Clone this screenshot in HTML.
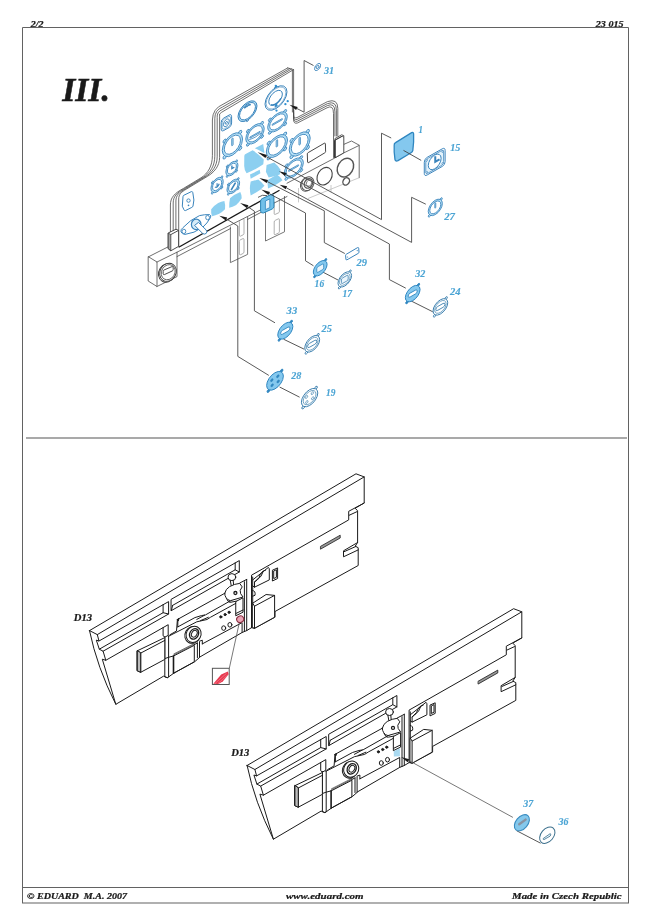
<!DOCTYPE html>
<html><head><meta charset="utf-8"><title>23 015</title>
<style>
html,body{margin:0;padding:0;background:#fff;}
body{width:650px;height:921px;overflow:hidden;font-family:"Liberation Serif",serif;}
svg{position:absolute;left:0;top:0;display:block;will-change:transform}
text{font-family:"Liberation Serif",serif;font-style:italic;font-weight:bold}
.k{fill:none;stroke:#1a1a1a;stroke-width:1;stroke-linejoin:round;stroke-linecap:round}
.kw{fill:#fff;stroke:#1a1a1a;stroke-width:1;stroke-linejoin:round;stroke-linecap:round}
.g{fill:none;stroke:#4a4a4a;stroke-width:.8;stroke-linejoin:round;stroke-linecap:round}
.gw{fill:#fff;stroke:#4a4a4a;stroke-width:.8;stroke-linejoin:round;stroke-linecap:round}
.b{fill:none;stroke:#2f8fc6;stroke-width:.9;stroke-linejoin:round;stroke-linecap:round}
.bf{fill:#7cc4ec;stroke:#2f8fc6;stroke-width:.9;stroke-linejoin:round}
.lf{fill:#8fd0f2;stroke:none}
.bt{fill:#4ba4d4;stroke:#4ba4d4;stroke-width:.12;font-size:9.5px}
.fr{fill:none;stroke:#626262;stroke-width:1}
</style></head><body>
<svg width="650" height="921" viewBox="0 0 650 921">
<g class="fr">
<path d="M22.5,903V27.5H628.5V903"/>
<path d="M22.5,887.5H628.5"/>
<path d="M22,903H629" stroke-width="1.2"/>
<path d="M26,438H627" stroke="#8c8c8c" stroke-width="1.4"/>
</g>
<g fill="#1a1a1a" stroke="#1a1a1a" stroke-width=".22">
<text x="30.8" y="26.7" font-size="8.5" textLength="12.7" lengthAdjust="spacingAndGlyphs">2/2</text>
<text x="595.8" y="26.6" font-size="8.5" textLength="27.7" lengthAdjust="spacingAndGlyphs">23 015</text>
<text x="62.3" y="101.3" font-size="33.5" textLength="47.5" lengthAdjust="spacingAndGlyphs" stroke="#1a1a1a" stroke-width=".5">III.</text>
<text x="27" y="898.5" font-size="8.6" textLength="100" lengthAdjust="spacingAndGlyphs" xml:space="preserve">© EDUARD  M.A. 2007</text>
<text x="286" y="898.5" font-size="8.6" textLength="77.5" lengthAdjust="spacingAndGlyphs">www.eduard.com</text>
<text x="512" y="898.5" font-size="8.6" textLength="109.5" lengthAdjust="spacingAndGlyphs">Made in Czech Republic</text>
<text x="73.8" y="621" font-size="9.5" textLength="18.2" lengthAdjust="spacingAndGlyphs">D13</text>
<text x="231.2" y="755.7" font-size="9.5" textLength="18.2" lengthAdjust="spacingAndGlyphs">D13</text>
</g>
<defs><g id="pn"><g class="k">
<!-- outer silhouette filled white -->
<path class="kw" d="M89.5,630.6L356,473.8L364.2,476.9V503L355.2,508.2L357.6,510.8V542.5L355.2,546.2L358.2,547.7V565.5L275,611.5V617.2L254.5,628.3L251.5,627.7L246.7,630.6L242.1,632.5L199.5,657.2V657.5L194.6,661.8L173.9,673.1L168.5,677L167.3,677.7L163.5,676.2L115.8,704.3Q97.1,667.4 89.5,630.6Z"/>
<!-- top rail -->
<path d="M89.5,630.6L97.3,634.6L364.2,476.9"/>
<!-- left end profile -->
<path d="M97.3,634.6L99,641L96.3,640.1L99.3,649.2L103.1,651.2L105.8,660.3L102.3,659.2L115.8,704.3"/>
<!-- long stringer lines left -->
<path d="M99,641L168.6,601.6V614L103.1,651.2"/>
<path d="M99.3,649.2L163.1,612.7L168.6,614M163.1,612.7V604.7"/>
<path d="M105.8,660.3L168.2,624.7V635.3L164.9,637.2L163.1,635.8V627.6"/>
<!-- right channel -->
<path d="M171.4,599.2L239.3,560.6V572L171.4,610.6Z"/>
<path d="M172.6,605.4L235.2,569.8V562.9M235.2,569.8L239.3,572M171.4,610.6L172.6,605.4"/>
<!-- right end notches -->
<path d="M364.2,503L348.7,511.3V519.9L251.5,575.2V627.7"/>
<path d="M349.3,515.2L356.9,511.7"/>
<path d="M357.6,542.5L343.5,550.8V556.8L358.2,549.9M344.3,551.6L356,546.4"/>
<path d="M320.8,546.2L340.2,535.2V538L320.8,549Z" fill="#999" stroke-width=".8"/>
<!-- sub-panel thickness line, bracket, slot -->
<path d="M252.7,577V603"/>
<path d="M252.7,579.9L268.4,567.4L269.3,568.8V579.9L254.5,587.2L252.7,585.9"/>
<path d="M254.5,587.2V582L259,577.5Q261,571 265.5,570.2M254.5,582L257,580.2Q262,576.5 263.3,571.3"/>
<path d="M272.4,570.6V581L277.6,578.5V568.3ZM273.7,571.4V578.6L276.4,577.3V570.1Z"/>
<path d="M252.7,590.5Q255.8,590.8 255,595.3L252.7,596.2"/>
<!-- box on sub-panel -->
<path class="kw" d="M252.7,603.2L266.1,594.5L274.6,595.4V617.2L254.5,628.3L252.7,627.5Z"/>
<path d="M252.7,603.2L254.5,606.2L274.6,595.4M254.5,606.2V628.3"/>
<!-- strip -->
<path d="M244.4,581.7V631.6M246.7,579.4V630.6M239.8,583L246.7,579.4"/>
<!-- lower band line and left wall of box recess -->
<path d="M177.4,619.5L226,592.6M177.4,619.5L176.5,631L170,634.7M177.8,626.9V620.5"/>
<path d="M177.4,619.5l1.6,-1 l-0.6,2.2z" fill="#1c1c1c"/>
<!-- box top face -->
<path d="M177.8,626.9L194.9,617.6L201.4,615.6L205.5,614.9L236.1,597.6"/>
<path d="M168.3,636.4L196.8,621.8L207,619.5L210.6,617.2L236.1,603.2"/>
<path d="M196.8,619.4L204.6,615.2M200.5,620.6L208.3,617.3"/>
<!-- box bottom -->
<path d="M202.3,643.9L242.1,622.6V632.5"/>
<path d="M199.5,641.2L202.3,640.2V643.9"/>
<!-- boss -->
<ellipse cx="192.6" cy="634.9" rx="7.6" ry="8.6" transform="rotate(28 192.6 634.9)"/>
<ellipse cx="193.6" cy="634.3" rx="7.3" ry="8.3" transform="rotate(28 193.6 634.3)" fill="#fff"/>
<ellipse cx="194.1" cy="633.9" rx="4.3" ry="5.5" transform="rotate(30 194.1 633.9)" stroke-width="1.3"/>
<ellipse cx="194.3" cy="633.8" rx="2.6" ry="3.6" transform="rotate(30 194.3 633.8)"/>
<!-- dots -->
<circle cx="220.8" cy="616.9" r="1.1" fill="#1c1c1c"/><circle cx="225.1" cy="614.6" r="1.1" fill="#1c1c1c"/><circle cx="229.1" cy="612.3" r="1.1" fill="#1c1c1c"/>
<ellipse cx="223.7" cy="628.1" rx="2" ry="2.3"/><ellipse cx="229.9" cy="624.8" rx="2" ry="2.3"/>
<!-- rib and blocks -->
<path d="M164.8,636.5V676.8L167.3,677.7L168.6,677V636"/>
<path d="M164.8,658.6L168.5,657.3L173.4,656"/>
<path d="M173.5,656V673.2" stroke-width="1.6"/>
<path d="M173.9,655.8L194.3,645.3V661.8L173.9,673.1"/>
<path d="M173.9,654.8L194.3,644.4M173.9,653.9L194.3,643.5" stroke-width=".6"/>
<path d="M197.4,643V657.6M199.5,642V657.2M194.3,644.6L197.4,643"/>
<!-- left block -->
<path class="kw" d="M137.3,650.8L164.8,637.6V659.4L140.7,672.3L137.3,670.8Z"/>
<path d="M137.3,650.8L140.7,653.1V672.3M140.7,653.1L164.8,640.4"/>
<path d="M137.3,650.8V670.8L140.7,672.3V653.1Z" fill="#bbb"/>
<!-- bracket above circle -->
<path class="kw" d="M236.1,601.4L243,597.8V612.2L236.1,615.6Z"/>
<path d="M236.1,613.4L243,610"/>
<!-- wheel -->
<ellipse cx="231.9" cy="577.1" rx="3.9" ry="3.5" fill="#fff"/>
<path d="M230.3,580.5L231.2,585.5M233.2,580.4L233.6,584.6"/>
<path d="M226.4,598.4L228.2,601.4Q229.2,602.6 231,602.2L236.1,601.2"/>
<path class="kw" d="M224.7,593.3Q225.6,589 229.6,586.6Q234.6,583.8 239.7,583.4L242.2,586.9Q239,590.4 240.6,593.6L243,597L230.4,600.7Q227.6,600.2 226.2,597.9Q224.6,595.6 224.7,593.3Z"/>
<circle cx="235.4" cy="593" r="1.5" stroke-width="1.3"/>
</g>
</g></defs>
<use href="#pn"/>
<use href="#pn" transform="translate(157.6,134.9)"/>
<!-- lower extras: red marker panel 1 -->
<g>
<path d="M239.3,622.8L229.3,668.3" fill="none" stroke="#555" stroke-width=".8"/>
<ellipse cx="240.2" cy="619.2" rx="3.6" ry="3.2" transform="rotate(-30 240.2 619.2)" fill="#eba6b6" stroke="#8a2f42" stroke-width="1.1"/>
<rect x="212.4" y="668.3" width="16.8" height="16.2" fill="#fff" stroke="#555" stroke-width="1"/>
<path d="M213.3,683.8L221.2,674.6L227.8,671.4L228.7,674.2L222.8,681.4L218.3,684Z" fill="#e8384f"/>
<path d="M215,683.5L226.5,673.3M218,683.5L228.3,674.5" stroke="#f7a0aa" stroke-width=".5" fill="none"/>
</g>
<!-- panel 2 blue patch + arrow + parts 36/37 -->
<g>
<path d="M393.8,751.2L399.9,748.3V756.3L393.8,756.5Z" fill="#a9d9f0"/>
<path d="M401.1,756.9L409.3,759.2L407.7,762.2Z" fill="#1c1c1c"/>
<path d="M409,760.6L512.9,817.4" fill="none" stroke="#555" stroke-width=".8"/>
<path d="M516.6,830.7L540.6,843.2" fill="none" stroke="#444" stroke-width=".9"/>
<ellipse cx="521.9" cy="822.7" rx="9.3" ry="6" transform="rotate(-50 521.9 822.7)" fill="#84c8ec" stroke="#3a8cc0" stroke-width="1.1"/>
<path d="M519.2,824.3L525.6,819.6" stroke="#8793a3" stroke-width="2.4" stroke-linecap="round" fill="none"/>
<ellipse cx="547.3" cy="835.2" rx="9.3" ry="6.3" transform="rotate(-50 547.3 835.2)" fill="#fff" stroke="#3b6f8c" stroke-width="1"/>
<path d="M543.3,838.4L550.3,833.6Q551.6,835 550,836.2L544,839.6Q542.6,839.4 543.3,838.4Z" fill="#e4f3fb" stroke="#3b6f8c" stroke-width=".8"/>
<text class="bt" x="523.3" y="807.2" textLength="10" lengthAdjust="spacingAndGlyphs">37</text>
<text class="bt" x="558.6" y="824.9" textLength="10" lengthAdjust="spacingAndGlyphs">36</text>
</g>
<g id="upper">
<path d="M170.4,250V205.0C170.4,197.5 174.5,193.2 183.5,188.4L201.0,177.8C208.0,173.5 212.4,166.0 212.4,155.5V120.0Q212.6,108.6 223.0,104.3L287.7,67.9L293.6,69.6V114.5Q293.6,118.6 297.0,117.6L327.5,101.6Q337.8,97.6 337.8,108.5V160L178,250Z" fill="#fff" stroke="none"/>
<path class="g" d="M170.4,250V205.0C170.4,197.5 174.5,193.2 183.5,188.4L201.0,177.8C208.0,173.5 212.4,166.0 212.4,155.5V120.0Q212.6,108.6 223.0,104.3L287.7,67.9"/>
<path class="g" d="M293.6,108.5V114.5Q293.6,118.8 297.0,117.6L327.5,101.6Q337.8,98.1 337.8,108.5V136"/>
<path class="g" d="M173.2,250V203.0C173.2,196.5 176.7,192.8 184.5,188.6L203.1,177.4C210.1,173.1 214.8,166.0 214.8,156.2V118.7Q214.6,110.3 222.5,107.0L289.7,68.5"/>
<path class="g" d="M293.6,110.2V116.2Q293.6,120.6 297.1,119.4L327.3,103.7Q336.4,100.2 336.4,110.2V136"/>
<path class="g" d="M175.9,250V201.0C175.9,195.5 179.0,192.4 185.4,188.9L205.1,176.9C212.1,172.8 217.2,166.0 217.2,156.8V117.5Q216.6,112.1 222.1,109.6L291.6,69.0"/>
<path class="g" d="M293.6,111.8V117.8Q293.6,122.4 297.3,121.2L327.2,105.7Q334.9,102.2 334.9,111.8V136"/>
<path class="g" d="M178.7,250V199.0C178.7,194.5 181.2,192.0 186.4,189.1L207.2,176.5C214.2,172.4 219.6,166.0 219.6,157.5V116.2Q218.6,113.8 221.6,112.3L293.6,69.6"/>
<path class="g" d="M293.6,113.5V119.5Q293.6,124.2 297.4,123.0L327.0,107.8Q333.5,104.3 333.5,113.5V157.5"/>
<path class="g" d="M287.7,67.9L293.6,69.6V114"/>
<path class="g" d="M292.4,70.5V112" stroke-width=".5"/>
<path d="M244.3,156.2Q244.3,154.6 245.6,154L252.6,150.3Q258.5,153.8 263.8,159.6L263.3,164.3Q255,170 246.6,173.3Q244.4,171 244.2,166Z" fill="#8ccff0"/>
<path d="M254.8,148.3L263.2,144.1L264.5,153.3Q259.6,150.2 254.8,148.3Z" fill="#8ccff0"/>
<path d="M266.6,165L274.2,162.6Q278,165.6 280.5,169.8L279.8,174.6Q274,176.6 268.7,177.5L265.9,171.8Z" fill="#8ccff0"/>
<path d="M250,174.6L259.7,169.8L260.4,173.2L250.7,178.8Z" fill="#8ccff0"/>
<path d="M267.3,180.2L277,174.6Q280.5,177 282.5,180.2Q278,183.6 274.2,185.7L268,188.5Z" fill="#8ccff0"/>
<path d="M250.7,181.5L258.3,179.5Q262,182.3 264.5,185.7L260.4,189.8Q255.5,193 250.7,195.4Q249.6,191 250,186Z" fill="#8ccff0"/>
<path d="M230,198.2Q234.5,194.2 240.3,192Q241.8,195 241.7,198.2Q239.4,202 236.2,205Q232.6,207 229.2,207.8Q229,203 230,198.2Z" fill="#8ccff0"/>
<path d="M211.2,209.2Q214.2,205.4 218.2,203Q221.2,201.6 224.4,201Q225.6,205 225,209.2Q222.4,212 218.8,214Q215.4,215.6 212,216.2Q210.8,212.6 211.2,209.2Z" fill="#8ccff0"/>
<g transform="matrix(5.208,-2.940,0,6.200,226.4,122.8)" fill="#fff" stroke="#3a84bc" stroke-width="1">
<rect x="-1" y="-1" width="2" height="2" rx=".5" vector-effect="non-scaling-stroke"/><rect x="-.8" y="-.8" width="1.6" height="1.6" rx=".4" vector-effect="non-scaling-stroke" stroke-width=".6"/><circle r=".55" vector-effect="non-scaling-stroke"/><circle r=".2" vector-effect="non-scaling-stroke"/></g>
<g transform="matrix(9.486,-5.355,0,8.900,247.5,111.2)" fill="#fff" stroke="#3a84bc" stroke-width="1">
<circle cx="0" cy="1.02" r=".12" vector-effect="non-scaling-stroke"/><circle r="1" vector-effect="non-scaling-stroke" fill="#b6dff5"/><circle r=".84" vector-effect="non-scaling-stroke"/><path d="M-.35,-.55Q0,-.75 .35,-.55" fill="none" vector-effect="non-scaling-stroke" stroke-width="1.4"/><circle cx="0" cy="-.6" r=".08" vector-effect="non-scaling-stroke"/></g>
<g transform="matrix(10.974,-6.195,0,10.600,276.0,98.0)" fill="#fff" stroke="#3a84bc" stroke-width="1">
<circle cx="0" cy="-1.0" r=".12" vector-effect="non-scaling-stroke" fill="#3a84bc"/><circle r="1" vector-effect="non-scaling-stroke"/><circle r=".9" vector-effect="non-scaling-stroke" stroke-width=".6" fill="none"/><circle cx="-.04" cy="-.03" r=".62" vector-effect="non-scaling-stroke"/><path d="M-.45,.35Q0,.75 .45,.3" fill="none" vector-effect="non-scaling-stroke" stroke-width="1.2"/><circle cx="0" cy=".72" r=".09" vector-effect="non-scaling-stroke" fill="#3a84bc"/></g>
<circle cx="285.4" cy="104.2" r="1.15" fill="#2f8fd0"/>
<circle cx="287.7" cy="101.2" r="1.15" fill="#2f8fd0"/>
<circle cx="276.3" cy="105.4" r="1.15" fill="#2f8fd0"/>
<circle cx="276.5" cy="110.6" r="1.15" fill="#2f8fd0"/>
<circle cx="275.8" cy="85.9" r="1.15" fill="#2f8fd0"/>
<g transform="matrix(9.207,-5.198,0,8.800,255.0,133.8)" fill="#b6dff5" stroke="#3a84bc" stroke-width="0.9">
<circle cx="0.757" cy="-0.757" r=".17" vector-effect="non-scaling-stroke"/>
<circle cx="-0.757" cy="-0.757" r=".17" vector-effect="non-scaling-stroke"/>
<circle cx="-0.757" cy="0.757" r=".17" vector-effect="non-scaling-stroke"/>
<circle cx="0.757" cy="0.757" r=".17" vector-effect="non-scaling-stroke"/>
<circle r="1" vector-effect="non-scaling-stroke"/>
<circle r="0.8" vector-effect="non-scaling-stroke" fill="#fff"/>
<rect x="-.55" y=".04" width="1.1" height=".14" vector-effect="non-scaling-stroke" stroke-width=".8"/>
<path d="M-0.7,0.3Q0,0.5 0.7,0.3" vector-effect="non-scaling-stroke" stroke-width=".8" fill="none"/>
</g>
<g transform="matrix(9.858,-5.565,0,8.400,277.5,121.9)" fill="#b6dff5" stroke="#3a84bc" stroke-width="0.9">
<circle cx="0.757" cy="-0.757" r=".17" vector-effect="non-scaling-stroke"/>
<circle cx="-0.757" cy="-0.757" r=".17" vector-effect="non-scaling-stroke"/>
<circle cx="-0.757" cy="0.757" r=".17" vector-effect="non-scaling-stroke"/>
<circle cx="0.757" cy="0.757" r=".17" vector-effect="non-scaling-stroke"/>
<circle r="1" vector-effect="non-scaling-stroke"/>
<circle r="0.8" vector-effect="non-scaling-stroke" fill="#fff"/>
<rect x="-.55" y="-.08" width="1.05" height=".15" rx=".05" vector-effect="non-scaling-stroke" stroke-width=".8"/>
</g>
<g transform="matrix(10.137,-5.723,0,10.500,232.4,144.7)" fill="#b6dff5" stroke="#3a84bc" stroke-width="0.9">
<circle cx="0.757" cy="-0.757" r=".17" vector-effect="non-scaling-stroke"/>
<circle cx="-0.757" cy="-0.757" r=".17" vector-effect="non-scaling-stroke"/>
<circle cx="-0.757" cy="0.757" r=".17" vector-effect="non-scaling-stroke"/>
<circle cx="0.757" cy="0.757" r=".17" vector-effect="non-scaling-stroke"/>
<circle r="1" vector-effect="non-scaling-stroke"/>
<circle r="0.8" vector-effect="non-scaling-stroke" fill="#fff"/>
<rect x="-.07" y="-.62" width=".14" height=".7" rx=".05" vector-effect="non-scaling-stroke" stroke-width=".8"/>
</g>
<g transform="matrix(10.602,-5.985,0,9.800,276.9,146.0)" fill="#b6dff5" stroke="#3a84bc" stroke-width="0.9">
<circle cx="0.757" cy="-0.757" r=".17" vector-effect="non-scaling-stroke"/>
<circle cx="-0.757" cy="-0.757" r=".17" vector-effect="non-scaling-stroke"/>
<circle cx="-0.757" cy="0.757" r=".17" vector-effect="non-scaling-stroke"/>
<circle cx="0.757" cy="0.757" r=".17" vector-effect="non-scaling-stroke"/>
<circle r="1" vector-effect="non-scaling-stroke"/>
<circle r="0.8" vector-effect="non-scaling-stroke" fill="#fff"/>
<rect x="-.07" y="-.62" width=".14" height=".7" rx=".05" vector-effect="non-scaling-stroke" stroke-width=".8"/>
</g>
<g transform="matrix(10.509,-5.933,0,10.600,299.7,144.0)" fill="#b6dff5" stroke="#3a84bc" stroke-width="0.9">
<circle cx="0.757" cy="-0.757" r=".17" vector-effect="non-scaling-stroke"/>
<circle cx="-0.757" cy="-0.757" r=".17" vector-effect="non-scaling-stroke"/>
<circle cx="-0.757" cy="0.757" r=".17" vector-effect="non-scaling-stroke"/>
<circle cx="0.757" cy="0.757" r=".17" vector-effect="non-scaling-stroke"/>
<circle r="1" vector-effect="non-scaling-stroke"/>
<circle r="0.8" vector-effect="non-scaling-stroke" fill="#fff"/>
<rect x="-.07" y="-.62" width=".14" height=".7" rx=".05" vector-effect="non-scaling-stroke" stroke-width=".8"/>
</g>
<g transform="matrix(9.579,-5.408,0,8.500,293.8,168.0)" fill="#b6dff5" stroke="#3a84bc" stroke-width="0.9">
<circle cx="0.757" cy="-0.757" r=".17" vector-effect="non-scaling-stroke"/>
<circle cx="-0.757" cy="-0.757" r=".17" vector-effect="non-scaling-stroke"/>
<circle cx="-0.757" cy="0.757" r=".17" vector-effect="non-scaling-stroke"/>
<circle cx="0.757" cy="0.757" r=".17" vector-effect="non-scaling-stroke"/>
<circle r="1" vector-effect="non-scaling-stroke"/>
<circle r="0.8" vector-effect="non-scaling-stroke" fill="#fff"/>
<rect x="-.55" y="-.08" width="1.05" height=".15" rx=".05" vector-effect="non-scaling-stroke" stroke-width=".8"/>
</g>
<g transform="matrix(6.045,-3.413,0,6.400,231.9,168.6)" fill="#b6dff5" stroke="#3a84bc" stroke-width="0.9">
<circle cx="0.757" cy="-0.757" r=".17" vector-effect="non-scaling-stroke"/>
<circle cx="-0.757" cy="-0.757" r=".17" vector-effect="non-scaling-stroke"/>
<circle cx="-0.757" cy="0.757" r=".17" vector-effect="non-scaling-stroke"/>
<circle cx="0.757" cy="0.757" r=".17" vector-effect="non-scaling-stroke"/>
<circle r="1" vector-effect="non-scaling-stroke"/>
<circle r="0.74" vector-effect="non-scaling-stroke" fill="#fff"/>
<path d="M0,-0.5V0H0.4" vector-effect="non-scaling-stroke" stroke-width="1.4" fill="none"/>
</g>
<g transform="matrix(6.324,-3.570,0,6.300,233.3,186.4)" fill="#b6dff5" stroke="#3a84bc" stroke-width="0.9">
<circle cx="0.757" cy="-0.757" r=".17" vector-effect="non-scaling-stroke"/>
<circle cx="-0.757" cy="-0.757" r=".17" vector-effect="non-scaling-stroke"/>
<circle cx="-0.757" cy="0.757" r=".17" vector-effect="non-scaling-stroke"/>
<circle cx="0.757" cy="0.757" r=".17" vector-effect="non-scaling-stroke"/>
<circle r="1" vector-effect="non-scaling-stroke"/>
<circle r="0.74" vector-effect="non-scaling-stroke" fill="#fff"/>
<path d="M-0.3,0.35L0.3,-0.35" vector-effect="non-scaling-stroke" stroke-width="1.6" stroke-linecap="round" fill="none"/>
</g>
<g transform="matrix(6.138,-3.465,0,6.800,217.1,185.0)" fill="#b6dff5" stroke="#3a84bc" stroke-width="0.9">
<circle cx="0.757" cy="-0.757" r=".17" vector-effect="non-scaling-stroke"/>
<circle cx="-0.757" cy="-0.757" r=".17" vector-effect="non-scaling-stroke"/>
<circle cx="-0.757" cy="0.757" r=".17" vector-effect="non-scaling-stroke"/>
<circle cx="0.757" cy="0.757" r=".17" vector-effect="non-scaling-stroke"/>
<circle r="1" vector-effect="non-scaling-stroke"/>
<circle r="0.74" vector-effect="non-scaling-stroke" fill="#fff"/>
<path d="M-0.35,0.1Q0,0.55 0.35,0.0M0,0.3V-0.25" vector-effect="non-scaling-stroke" stroke-width="1.2" fill="none"/>
</g>
<path d="M183,196.6Q183,195.6 184,195.2L191.4,191.6Q192.6,191.4 192.8,192.6L193.9,200L193,206Q192.8,207 191.8,207.4L185.4,210.6Q184.4,210.8 184,209.8L182.3,206.2Z" fill="#fff" stroke="#3a84bc" stroke-width="1"/>
<circle cx="188.5" cy="200.6" r="1.7" fill="none" stroke="#3a84bc" stroke-width=".9"/><circle cx="188.5" cy="205.4" r=".8" fill="#3a84bc"/>
<path d="M308.2,152.6L324.4,143.2Q325.3,142.9 325.4,143.8L325.6,151.6Q325.6,152.4 324.8,152.8L308.6,162.6Q307.7,162.9 307.6,162L307.3,153.8Q307.4,153 308.2,152.6Z" fill="#fff" stroke="#333" stroke-width=".9"/>
<path d="M230.4,226.4V262.6L247.6,254.4V215" fill="#fff" stroke="#666" stroke-width=".9"/>
<path d="M239.4,221.6Q239.4,220.4 240.4,220L243,218.8Q244,218.6 244,219.6V233.4Q244,234.4 243,234.9L240.4,236.2Q239.4,236.4 239.4,235.4Z M239.4,241.4Q239.4,240.2 240.4,239.8L243,238.6Q244,238.4 244,239.4V252Q244,253 243,253.5L240.4,254.8Q239.4,255 239.4,254Z" fill="none" stroke="#999" stroke-width=".8"/>
<path d="M265.5,208V241L284.5,231.8V196" fill="#fff" stroke="#666" stroke-width=".9"/>
<path d="M274.2,201Q274.2,199.8 275.2,199.4L278.4,197.8Q279.4,197.6 279.4,198.6V211.4Q279.4,212.4 278.4,212.9L275.2,214.4Q274.2,214.6 274.2,213.6Z M274.2,222Q274.2,220.8 275.2,220.4L278.4,218.8Q279.4,218.6 279.4,219.6V231.6Q279.4,232.6 278.4,233.1L275.2,234.6Q274.2,234.8 274.2,233.8Z" fill="none" stroke="#999" stroke-width=".8"/>
<path d="M148.5,256.8L168.2,247L178.7,247.2L279.5,190.3L334.6,159.5L343.8,153L356.2,143.2L359.2,145.4V177.7L308,198.5L298.5,202.4V188L177,256.5V277L157,286.5L148.5,281.2Z" fill="#fff" stroke="none"/>
<path class="g" stroke="#3a3a3a" d="M148.5,256.8L157,262V286.5L148.5,281.2Z"/>
<path class="g" stroke="#3a3a3a" d="M157,262L177,252.2L287,196.5"/>
<path class="g" stroke="#3a3a3a" d="M148.5,256.8L168.2,246.8"/>
<path class="g" stroke="#3a3a3a" d="M157,286.5L177,276.6V252.2" />
<path class="g" stroke="#3a3a3a" d="M177,256.6L230.4,228.6M247.6,219.4L265.5,210"/>
<path d="M178.7,247.2L279.5,190.3" fill="none" stroke="#161616" stroke-width="1.3"/>
<ellipse cx="167.1" cy="272.9" rx="8.3" ry="9.6" transform="rotate(32 167.1 272.9)" fill="#fff" stroke="#3a3a3a" stroke-width=".9"/>
<ellipse cx="168" cy="272.3" rx="8" ry="9.4" transform="rotate(32 168 272.3)" fill="#fff" stroke="#3a3a3a" stroke-width=".9"/>
<ellipse cx="168.2" cy="272.2" rx="6.6" ry="7.9" transform="rotate(32 168.2 272.2)" fill="none" stroke="#3a3a3a" stroke-width=".7"/>
<path d="M163.2,271.6Q163,270.4 164,270L172,266.6Q173.2,266.4 173.2,267.6V269.6Q173.2,270.6 172.2,271L164.4,274.6Q163.2,274.8 163.2,273.6Z" fill="#fff" stroke="#3a3a3a" stroke-width=".9"/>
<path d="M168.2,233L176,229.2L178.6,230.4V246.4L170.8,250.8L168.2,248.6Z" fill="#fff" stroke="#3a3a3a" stroke-width=".9"/>
<path d="M168.2,233L170.8,234.6V250.8L168.2,248.6Z" fill="#aaa" stroke="#3a3a3a" stroke-width=".8"/>
<path d="M170.8,234.6L178.6,230.4" fill="none" stroke="#3a3a3a" stroke-width=".9"/>
<path d="M181,231.8Q180.4,229.6 183,227.6Q190,219.8 199.5,215.6Q204.6,214.4 209.6,214.6Q211.6,215.4 210.4,217.8Q207,223.6 203,227Q194,233.6 185,234.4Q182,234.2 181,231.8Z" fill="#fff" stroke="#3a84bc" stroke-width="1"/>
<ellipse cx="183.9" cy="231.4" rx="1.9" ry="2.2" fill="#fff" stroke="#3a84bc" stroke-width=".9"/><ellipse cx="207.6" cy="217.6" rx="1.9" ry="2.2" fill="#fff" stroke="#3a84bc" stroke-width=".9"/>
<ellipse cx="196.2" cy="224.4" rx="4.8" ry="5.2" fill="#d5ecf8" stroke="#3a84bc" stroke-width="1.2"/>
<path d="M194.6,225.4L202.8,233.6Q204.8,234.8 206.4,233.2Q207.6,231.4 206,229.8L198.4,222.4Z" fill="#fff" stroke="#3a84bc" stroke-width="1"/>
<path class="g" stroke="#3a3a3a" d="M287,183.2L334.8,158L343.6,153L359.2,145.4V177.7"/>
<path class="g" stroke="#3a3a3a" d="M343.8,144.4L351.5,141L359.2,145.2"/>
<path fill="none" stroke="#bdbdbd" stroke-width=".8" d="M359.2,177.7L308,198.5M298.5,188V202.4M331,185V192.4"/>
<path d="M334.9,140.2L342.2,136.2L343.8,137.2V152.9L334.9,157.8Z" fill="#fff" stroke="#3a3a3a" stroke-width=".9"/>
<path d="M334.9,138.6L341.6,134.8L343.8,135.6V137.2M334.9,138.6V140.2L342.2,136.2" fill="none" stroke="#3a3a3a" stroke-width=".8"/>
<path d="M334.9,140.2V157.8" fill="none" stroke="#222" stroke-width="1.4"/>
<ellipse cx="345.4" cy="167.6" rx="7.6" ry="9.9" transform="rotate(30 345.4 167.6)" fill="#fff" stroke="#555" stroke-width="1.5"/>
<ellipse cx="324.6" cy="176.2" rx="7" ry="9.3" transform="rotate(30 324.6 176.2)" fill="#fff" stroke="#444" stroke-width="1.1"/>
<ellipse cx="346.2" cy="181.4" rx="3.1" ry="3.9" transform="rotate(30 346.2 181.4)" fill="#fff" stroke="#555" stroke-width="1.4"/>
<ellipse cx="306.6" cy="184.4" rx="5.8" ry="7.2" transform="rotate(30 306.6 184.4)" fill="#fff" stroke="#555" stroke-width="1"/>
<ellipse cx="307.8" cy="183.7" rx="5.8" ry="7.2" transform="rotate(30 307.8 183.7)" fill="#fff" stroke="#555" stroke-width="1"/>
<ellipse cx="308.4" cy="183.4" rx="3.9" ry="5" transform="rotate(30 308.4 183.4)" fill="#fff" stroke="#555" stroke-width="1.3"/>
<ellipse cx="309" cy="183.1" rx="2.5" ry="3.4" transform="rotate(30 309 183.1)" fill="#fff" stroke="#666" stroke-width=".8"/>
<path d="M258,197.4L262.4,195.3L267,195.6" fill="none" stroke="#333" stroke-width=".8"/>
<path d="M260.6,201.2Q260.6,199.4 262.2,198.6L271,194.6Q273.8,194.2 273.9,196.6V206.4Q273.8,208.2 272.2,209L263.4,213Q260.8,213.4 260.6,211Z" fill="#72c0e9" stroke="#2a86b8" stroke-width="1"/>
<path d="M265.4,201L269.8,198.9V207.6L265.4,209.7Z" fill="#e6f3fb" stroke="#2f86c0" stroke-width=".8"/>
<path d="M266.2,156.6L381.5,219.6V133.2L391.2,138" fill="none" stroke="#484848" stroke-width=".9" stroke-linejoin="miter"/>
<path d="M285.8,174.6L411.6,242.4V197.3L425.8,204.2" fill="none" stroke="#484848" stroke-width=".9" stroke-linejoin="miter"/>
<path d="M286.4,187.8L389.4,244V279.6L405.8,288.2" fill="none" stroke="#484848" stroke-width=".9" stroke-linejoin="miter"/>
<path d="M267.3,181.6L324.3,210.8V242.6L344.8,253.5" fill="none" stroke="#484848" stroke-width=".9" stroke-linejoin="miter"/>
<path d="M269.2,193.6L305.5,213V260.8L313.5,265.8" fill="none" stroke="#484848" stroke-width=".9" stroke-linejoin="miter"/>
<path d="M247.7,206.7L254.4,211.2V310.8L275,322.8" fill="none" stroke="#484848" stroke-width=".9" stroke-linejoin="miter"/>
<path d="M226.5,219L237.8,226V356.4L268.8,375.4" fill="none" stroke="#484848" stroke-width=".9" stroke-linejoin="miter"/>
<path d="M296.9,108.5L304.1,112.2V60.5L313.5,65.5" fill="none" stroke="#484848" stroke-width=".9" stroke-linejoin="miter"/>
<path d="M257.7,152.3L265.4,158.1L267.0,155.1Z" fill="#1a1a1a"/>
<path d="M279,171.2L285.0,176.1L286.6,173.1Z" fill="#1a1a1a"/>
<path d="M259.3,177.9L266.6,183.1L268.0,180.1Z" fill="#1a1a1a"/>
<path d="M279.6,184.7L285.7,189.3L287.1,186.3Z" fill="#1a1a1a"/>
<path d="M261.2,189.6L268.4,195.1L270.0,192.1Z" fill="#1a1a1a"/>
<path d="M240.1,203.1L247.0,208.2L248.4,205.2Z" fill="#1a1a1a"/>
<path d="M219.3,215.8L225.8,220.6L227.2,217.4Z" fill="#1a1a1a"/>
<path d="M289.5,104.8L296.1,110.0L297.7,107.0Z" fill="#1a1a1a"/>
<g transform="matrix(2.976,-1.680,0,3.000,317.6,67)" fill="#fff" stroke="#3a84bc" stroke-width="1"><circle r="1" vector-effect="non-scaling-stroke"/><circle r=".45" vector-effect="non-scaling-stroke"/></g>
<text class="bt" x="324" y="73.6" textLength="10.2" lengthAdjust="spacingAndGlyphs">31</text>
<path d="M394.2,145.2Q394,143.4 395.6,142.6L411.6,132.6Q413.4,132 413.6,133.8Q414,142 412.8,150.6Q412.4,152 411,152.8L398,160.6Q395.6,161.8 395,159.6Q393.8,152 394.2,145.2Z" fill="#84c8ee" stroke="#2f86c0" stroke-width="1.3"/>
<path d="M403.5,150.4L421.2,160.4" fill="none" stroke="#444" stroke-width=".9"/>
<text class="bt" x="418.6" y="132.8" textLength="4.4" lengthAdjust="spacingAndGlyphs">1</text>
<g transform="matrix(0.930,-0.525,0,1.000,434.7,161.9)" stroke="#3a84bc" stroke-width="1" fill="#fff">
<rect x="-11.2" y="-8.8" width="22.4" height="17.6" rx="3.2" vector-effect="non-scaling-stroke"/><rect x="-9.6" y="-7.4" width="19.2" height="14.8" rx="2.6" vector-effect="non-scaling-stroke" fill="#e3f2fb" stroke-width=".8"/>
<circle cx="-8.6" cy="-6" r=".9" vector-effect="non-scaling-stroke" stroke-width=".7"/>
<circle cx="8.6" cy="-6" r=".9" vector-effect="non-scaling-stroke" stroke-width=".7"/>
<circle cx="8.6" cy="6" r=".9" vector-effect="non-scaling-stroke" stroke-width=".7"/>
<circle cx="-8.6" cy="6" r=".9" vector-effect="non-scaling-stroke" stroke-width=".7"/>
<circle r="6.9" vector-effect="non-scaling-stroke"/><path d="M0.6,-5.4V0.3H5.2" fill="none" stroke-width="2" vector-effect="non-scaling-stroke"/></g>
<text class="bt" x="450.2" y="150.8" textLength="10.2" lengthAdjust="spacingAndGlyphs">15</text>
<g transform="matrix(7.068,-3.990,0,7.200,435.3,207.4)" fill="#b6dff5" stroke="#3a84bc" stroke-width="0.9">
<circle cx="0.820" cy="-0.688" r=".17" vector-effect="non-scaling-stroke"/>
<circle cx="-0.820" cy="0.688" r=".17" vector-effect="non-scaling-stroke"/>
<circle r="1" vector-effect="non-scaling-stroke"/>
<circle r="0.78" vector-effect="non-scaling-stroke" fill="#fff"/>
<rect x="-.07" y="-.62" width=".14" height=".7" rx=".05" vector-effect="non-scaling-stroke" stroke-width=".8"/>
</g>
<text class="bt" x="444.2" y="219.8" textLength="10.8" lengthAdjust="spacingAndGlyphs">27</text>
<path d="M346.4,254.2L357.6,247.6Q358.6,247.3 358.7,248.2L359,252.2Q359,253 358.2,253.4L347,259.8Q346,260.2 345.9,259.2L345.6,255.2Q345.6,254.6 346.4,254.2Z" fill="#fff" stroke="#3a84bc" stroke-width="1"/>
<circle cx="347.6" cy="257" r=".6" fill="#3a84bc"/><circle cx="357.2" cy="250.6" r=".6" fill="#3a84bc"/>
<text class="bt" x="356.5" y="265.8" textLength="10.5" lengthAdjust="spacingAndGlyphs">29</text>
<path d="M320.2,270.7L338,280" fill="none" stroke="#444" stroke-width=".9"/>
<g transform="matrix(6.882,-3.885,0,6.660,320.2,268.2)" fill="#84c8ee" stroke="#2f86c0" stroke-width="1">
<circle cx=".78" cy="-.78" r=".17" vector-effect="non-scaling-stroke" fill="#2f86c0"/><circle cx="-.78" cy=".78" r=".17" vector-effect="non-scaling-stroke" fill="#2f86c0"/>
<circle r="1" vector-effect="non-scaling-stroke"/>
<rect x="-.5" y="-.42" width="1" height=".84" rx=".2" fill="#eaf5fc" vector-effect="non-scaling-stroke" stroke-width=".8"/>
</g>
<g transform="matrix(6.789,-3.833,0,6.570,344.8,279.4)" fill="#fff" stroke="#3b7fae" stroke-width="1">
<circle cx=".78" cy="-.78" r=".17" vector-effect="non-scaling-stroke" fill="#fff"/><circle cx="-.78" cy=".78" r=".17" vector-effect="non-scaling-stroke" fill="#fff"/>
<circle r="1" vector-effect="non-scaling-stroke"/>
<circle r=".78" vector-effect="non-scaling-stroke" stroke-width=".7"/>
<rect x="-.5" y="-.42" width="1" height=".84" rx=".2" fill="#eaf5fc" vector-effect="non-scaling-stroke" stroke-width=".8"/>
</g>
<text class="bt" x="314.6" y="286.8" textLength="9.6" lengthAdjust="spacingAndGlyphs">16</text>
<text class="bt" x="342.4" y="297.3" textLength="9.6" lengthAdjust="spacingAndGlyphs">17</text>
<path d="M410.6,300.7L432.8,311.8" fill="none" stroke="#444" stroke-width=".9"/>
<g transform="matrix(7.347,-4.147,0,7.110,412.7,293.6)" fill="#84c8ee" stroke="#2f86c0" stroke-width="1">
<circle cx=".78" cy="-.78" r=".17" vector-effect="non-scaling-stroke" fill="#2f86c0"/><circle cx="-.78" cy=".78" r=".17" vector-effect="non-scaling-stroke" fill="#2f86c0"/>
<circle r="1" vector-effect="non-scaling-stroke"/>
<rect x="-.62" y="-.27" width="1.24" height=".54" rx=".27" fill="#fff" vector-effect="non-scaling-stroke" stroke-width=".9"/>
</g>
<g transform="matrix(7.347,-4.147,0,7.110,440.4,306.9)" fill="#fff" stroke="#3b7fae" stroke-width="1">
<circle cx=".78" cy="-.78" r=".17" vector-effect="non-scaling-stroke" fill="#fff"/><circle cx="-.78" cy=".78" r=".17" vector-effect="non-scaling-stroke" fill="#fff"/>
<circle r="1" vector-effect="non-scaling-stroke"/>
<circle r=".78" vector-effect="non-scaling-stroke" stroke-width=".7"/>
<rect x="-.62" y="-.27" width="1.24" height=".54" rx=".27" fill="#fff" vector-effect="non-scaling-stroke" stroke-width=".9"/>
</g>
<text class="bt" x="415.2" y="277.3" textLength="10.2" lengthAdjust="spacingAndGlyphs">32</text>
<text class="bt" x="450" y="294.8" textLength="10.6" lengthAdjust="spacingAndGlyphs">24</text>
<path d="M283.5,339.2L304.2,349.2" fill="none" stroke="#444" stroke-width=".9"/>
<g transform="matrix(7.533,-4.253,0,7.290,285.3,330.7)" fill="#84c8ee" stroke="#2f86c0" stroke-width="1">
<circle cx=".78" cy="-.78" r=".17" vector-effect="non-scaling-stroke" fill="#2f86c0"/><circle cx="-.78" cy=".78" r=".17" vector-effect="non-scaling-stroke" fill="#2f86c0"/>
<circle r="1" vector-effect="non-scaling-stroke"/>
<rect x="-.62" y="-.27" width="1.24" height=".54" rx=".27" fill="#fff" vector-effect="non-scaling-stroke" stroke-width=".9"/>
</g>
<g transform="matrix(7.440,-4.200,0,7.200,312.2,343.8)" fill="#fff" stroke="#3b7fae" stroke-width="1">
<circle cx=".78" cy="-.78" r=".17" vector-effect="non-scaling-stroke" fill="#fff"/><circle cx="-.78" cy=".78" r=".17" vector-effect="non-scaling-stroke" fill="#fff"/>
<circle r="1" vector-effect="non-scaling-stroke"/>
<circle r=".78" vector-effect="non-scaling-stroke" stroke-width=".7"/>
<rect x="-.62" y="-.27" width="1.24" height=".54" rx=".27" fill="#fff" vector-effect="non-scaling-stroke" stroke-width=".9"/>
</g>
<text class="bt" x="286.6" y="313.9" textLength="10.6" lengthAdjust="spacingAndGlyphs">33</text>
<text class="bt" x="321.6" y="331.6" textLength="10.4" lengthAdjust="spacingAndGlyphs">25</text>
<path d="M279.6,387L299.6,397.2" fill="none" stroke="#444" stroke-width=".9"/>
<g transform="matrix(8.370,-4.725,0,8.100,275,380.8)" fill="#84c8ee" stroke="#2f86c0" stroke-width="1">
<circle cx=".78" cy="-.78" r=".17" vector-effect="non-scaling-stroke" fill="#2f86c0"/><circle cx="-.78" cy=".78" r=".17" vector-effect="non-scaling-stroke" fill="#2f86c0"/>
<circle r="1" vector-effect="non-scaling-stroke"/>
<circle cx="-0.38" cy="-0.3" r=".15" fill="#2f86c0" vector-effect="non-scaling-stroke" stroke-width=".7"/>
<circle cx="0.34" cy="-0.36" r=".15" fill="#2f86c0" vector-effect="non-scaling-stroke" stroke-width=".7"/>
<circle cx="-0.34" cy="0.36" r=".15" fill="#2f86c0" vector-effect="non-scaling-stroke" stroke-width=".7"/>
<circle cx="0.38" cy="0.3" r=".15" fill="#2f86c0" vector-effect="non-scaling-stroke" stroke-width=".7"/>
</g>
<g transform="matrix(8.184,-4.620,0,7.920,309.6,397.6)" fill="#fff" stroke="#3b7fae" stroke-width="1">
<circle cx=".78" cy="-.78" r=".17" vector-effect="non-scaling-stroke" fill="#fff"/><circle cx="-.78" cy=".78" r=".17" vector-effect="non-scaling-stroke" fill="#fff"/>
<circle r="1" vector-effect="non-scaling-stroke"/>
<circle r=".78" vector-effect="non-scaling-stroke" stroke-width=".7"/>
<circle cx="-0.38" cy="-0.3" r=".15" fill="#fff" vector-effect="non-scaling-stroke" stroke-width=".7"/>
<circle cx="0.34" cy="-0.36" r=".15" fill="#fff" vector-effect="non-scaling-stroke" stroke-width=".7"/>
<circle cx="-0.34" cy="0.36" r=".15" fill="#fff" vector-effect="non-scaling-stroke" stroke-width=".7"/>
<circle cx="0.38" cy="0.3" r=".15" fill="#fff" vector-effect="non-scaling-stroke" stroke-width=".7"/>
</g>
<text class="bt" x="291.2" y="379.3" textLength="10.2" lengthAdjust="spacingAndGlyphs">28</text>
<text class="bt" x="326" y="396.3" textLength="9.4" lengthAdjust="spacingAndGlyphs">19</text>
</g>
</svg></body></html>
